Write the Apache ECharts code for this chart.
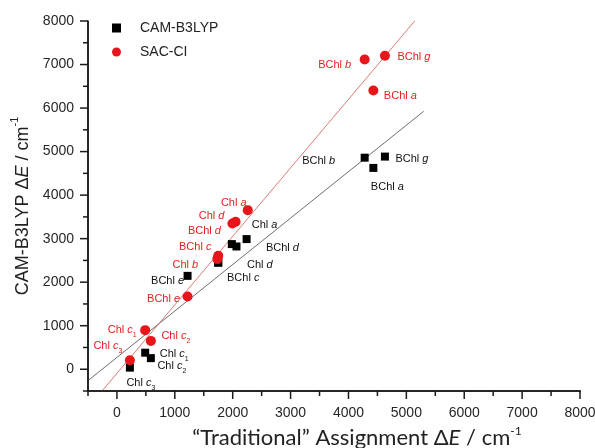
<!DOCTYPE html>
<html>
<head>
<meta charset="utf-8">
<script src="https://cdn.jsdelivr.net/npm/echarts@6/dist/echarts.min.js"></script>
<style>
  html, body { margin: 0; padding: 0; background: #fff; }
  #demo { width: 595px; height: 448px; }
</style>
</head>
<body>
<div id="demo"></div>
<script>
// pigment names, same order for both methods
var pigments = ['BChl b', 'BChl g', 'BChl a', 'Chl a', 'Chl d', 'BChl d', 'BChl c', 'Chl b', 'BChl e', 'Chl c1', 'Chl c2', 'Chl c3'];

// "traditional" assignment dE (x) for each pigment
var tradCam = [4280, 4630, 4430, 2240, 1985, 2065, 1750, 1750, 1220, 488, 586, 224];
var tradSac = [4280, 4630, 4430, 2260, 2050, 1995, 1750, 1735, 1220, 488, 586, 224];

// computed dE (y)
var camB3lyp = [4860, 4885, 4625, 2990, 2875, 2820, 2450, 2450, 2145, 380, 255, 37];
var sacCi    = [7115, 7200, 6405, 3655, 3390, 3350, 2605, 2530, 1670, 898, 651, 207];

// fit lines (end points)
var fitCam = [[-500, -262], [5300, 5926]];
var fitSac = [[-258, -500], [5144, 8000]];

// axis range and tick values
var axisMin = -500, axisMax = 8000;
var tickValues = [-500, 0, 500, 1000, 1500, 2000, 2500, 3000, 3500, 4000, 4500, 5000, 5500, 6000, 6500, 7000, 7500, 8000];

// label offsets (px from marker centre)
var camLabelOff = [[-46, 2], [27, 1], [14, 18], [18, -16], [28, 19], [46, 0], [25, 14], [25, 14], [-20, 4], [29, 0], [21, 6], [11, 14]];
var sacLabelOff = [[-30, 4], [29, 0], [27, 4], [-14, -9], [-24, -7], [-28, 6], [-23, -10], [-32, 4], [-24, 1], [-23, -2], [25, -6], [-22, -16]];

var FONT = '"Liberation Sans", Arial, sans-serif';
var XFONT = 'Lato, "Open Sans", sans-serif';
var AXIS_COLOR = '#1a1a1a';

function richName(name) {
    var m = /^(\S+) ([a-z])(\d?)$/.exec(name);
    if (!m) return '{n|' + name + '}';
    var s = '{n|' + m[1] + ' }{i|' + m[2] + '}';
    if (m[3]) s += '{s|' + m[3] + '}';
    return s;
}

function labelRich(color) {
    return {
        n: { fontFamily: FONT, fontSize: 11, color: color, lineHeight: 14, verticalAlign: 'bottom' },
        i: { fontFamily: FONT, fontSize: 11, fontStyle: 'italic', color: color, lineHeight: 14, verticalAlign: 'bottom' },
        s: { fontFamily: FONT, fontSize: 7, color: color, lineHeight: 10, verticalAlign: 'bottom', padding: [0, 0, -3, 0] }
    };
}

function buildPoints(xs, ys, offs, skip) {
    var out = [];
    for (var i = 0; i < pigments.length; i++) {
        out.push({
            name: pigments[i],
            value: [xs[i], ys[i]],
            label: { offset: offs[i], show: skip.indexOf(pigments[i]) < 0 }
        });
    }
    return out;
}

function everyThousand(v) { return v % 1000 === 0 ? String(v) : ''; }

// axis lines and ticks (major 1000 long, minor 500 short), placed with api.coord
function renderAxisItem(params, api) {
    var v = api.value(0);
    var len = (v % 1000 === 0) ? 8 : 5;
    var pX = api.coord([v, axisMin]);
    var pY = api.coord([axisMin, v]);
    var children = [
        { type: 'rect', shape: { x: pX[0] - 0.75, y: pX[1], width: 1.5, height: len }, style: { fill: AXIS_COLOR } },
        { type: 'rect', shape: { x: pY[0] - len, y: pY[1] - 0.75, width: len, height: 1.5 }, style: { fill: AXIS_COLOR } }
    ];
    if (params.dataIndex === 0) {
        var o = api.coord([axisMin, axisMin]);
        var xe = api.coord([axisMax, axisMin]);
        var ye = api.coord([axisMin, axisMax]);
        children.push({ type: 'rect', shape: { x: o[0] - 0.75, y: ye[1], width: 1.5, height: o[1] - ye[1] + 0.75 }, style: { fill: AXIS_COLOR } });
        children.push({ type: 'rect', shape: { x: o[0] - 0.75, y: o[1] - 0.75, width: xe[0] - o[0] + 1.5, height: 1.5 }, style: { fill: AXIS_COLOR } });
    }
    return { type: 'group', children: children };
}

var tickData = [];
for (var k = 0; k < tickValues.length; k++) tickData.push([tickValues[k], axisMin]);

var options = {
    animation: false,
    backgroundColor: '#fff',
    grid: { left: 88, right: 15, top: 21, bottom: 57, outerBoundsMode: 'none' },
    legend: {
        orient: 'vertical',
        left: 107, top: 16,
        itemWidth: 9, itemHeight: 9, itemGap: 10,
        data: [{ name: 'CAM-B3LYP', icon: 'rect' }, { name: 'SAC-CI', icon: 'circle' }],
        formatter: '{t|{name}}',
        textStyle: {
            rich: { t: { fontFamily: FONT, fontSize: 14, color: '#222', padding: [0, 0, 0, 14], lineHeight: 14 } }
        }
    },
    xAxis: {
        type: 'value', min: axisMin, max: axisMax, interval: 500,
        axisLine: { show: true, onZero: false, lineStyle: { color: AXIS_COLOR, width: 1.5 } },
        axisTick: { show: false },
        axisLabel: { formatter: everyThousand, margin: 15, color: '#262626', fontSize: 14, fontFamily: FONT },
        splitLine: { show: false },
        name: '{a|\u201cTraditional\u201d Assignment \u0394}{i|E}{a| / cm}{s|-1}',
        nameLocation: 'middle',
        nameGap: 31,
        nameTextStyle: {
            padding: [0, 0, 0, 46],
            rich: {
                a: { fontFamily: XFONT, fontSize: 22, color: '#222', lineHeight: 24, verticalAlign: 'bottom' },
                i: { fontFamily: XFONT, fontSize: 22, fontStyle: 'italic', color: '#222', lineHeight: 24, verticalAlign: 'bottom' },
                s: { fontFamily: XFONT, fontSize: 12, color: '#222', lineHeight: 24, verticalAlign: 'top', padding: [0, 0, 8, 0] }
            }
        }
    },
    yAxis: {
        type: 'value', min: axisMin, max: axisMax, interval: 500,
        axisLine: { show: true, onZero: false, lineStyle: { color: AXIS_COLOR, width: 1.5 } },
        axisTick: { show: false },
        axisLabel: { formatter: everyThousand, margin: 14, color: '#262626', fontSize: 14, fontFamily: FONT },
        splitLine: { show: false },
        name: '{a|CAM-B3LYP \u0394}{i|E}{a| / cm}{s|-1}',
        nameLocation: 'middle',
        nameGap: 56,
        nameRotate: 90,
        nameTextStyle: {
            rich: {
                a: { fontFamily: FONT, fontSize: 18, color: '#222', lineHeight: 22, verticalAlign: 'bottom' },
                i: { fontFamily: FONT, fontSize: 18, fontStyle: 'italic', color: '#222', lineHeight: 22, verticalAlign: 'bottom' },
                s: { fontFamily: FONT, fontSize: 11, color: '#222', lineHeight: 22, verticalAlign: 'top', padding: [0, 0, 8, 0] }
            }
        }
    },
    series: [
        {
            name: 'axes', type: 'custom', renderItem: renderAxisItem, data: tickData,
            clip: false, silent: true, z: 5
        },
        {
            name: 'fitCam', type: 'line', data: fitCam, showSymbol: false, silent: true,
            lineStyle: { color: '#6e6e6e', width: 1 }, z: 1
        },
        {
            name: 'fitSac', type: 'line', data: fitSac, showSymbol: false, silent: true,
            lineStyle: { color: '#dc7a78', width: 1 }, z: 1
        },
        {
            name: 'CAM-B3LYP', type: 'scatter', symbol: 'rect', symbolSize: 8,
            itemStyle: { color: '#000', opacity: 1 }, z: 3,
            label: {
                show: true, position: 'inside', align: 'center', verticalAlign: 'middle',
                formatter: function (p) { return richName(p.name); },
                rich: labelRich('#111')
            },
            data: buildPoints(tradCam, camB3lyp, camLabelOff, ['Chl b'])
        },
        {
            name: 'SAC-CI', type: 'scatter', symbol: 'circle', symbolSize: 10,
            itemStyle: { color: '#e8151b', opacity: 1 }, z: 4,
            label: {
                show: true, position: 'inside', align: 'center', verticalAlign: 'middle',
                formatter: function (p) { return richName(p.name); },
                rich: labelRich('#e3211d')
            },
            data: buildPoints(tradSac, sacCi, sacLabelOff, [])
        }
    ]
};

var myChart = echarts.init(document.getElementById('demo'));
myChart.setOption(options, true);
</script>
</body>
</html>
